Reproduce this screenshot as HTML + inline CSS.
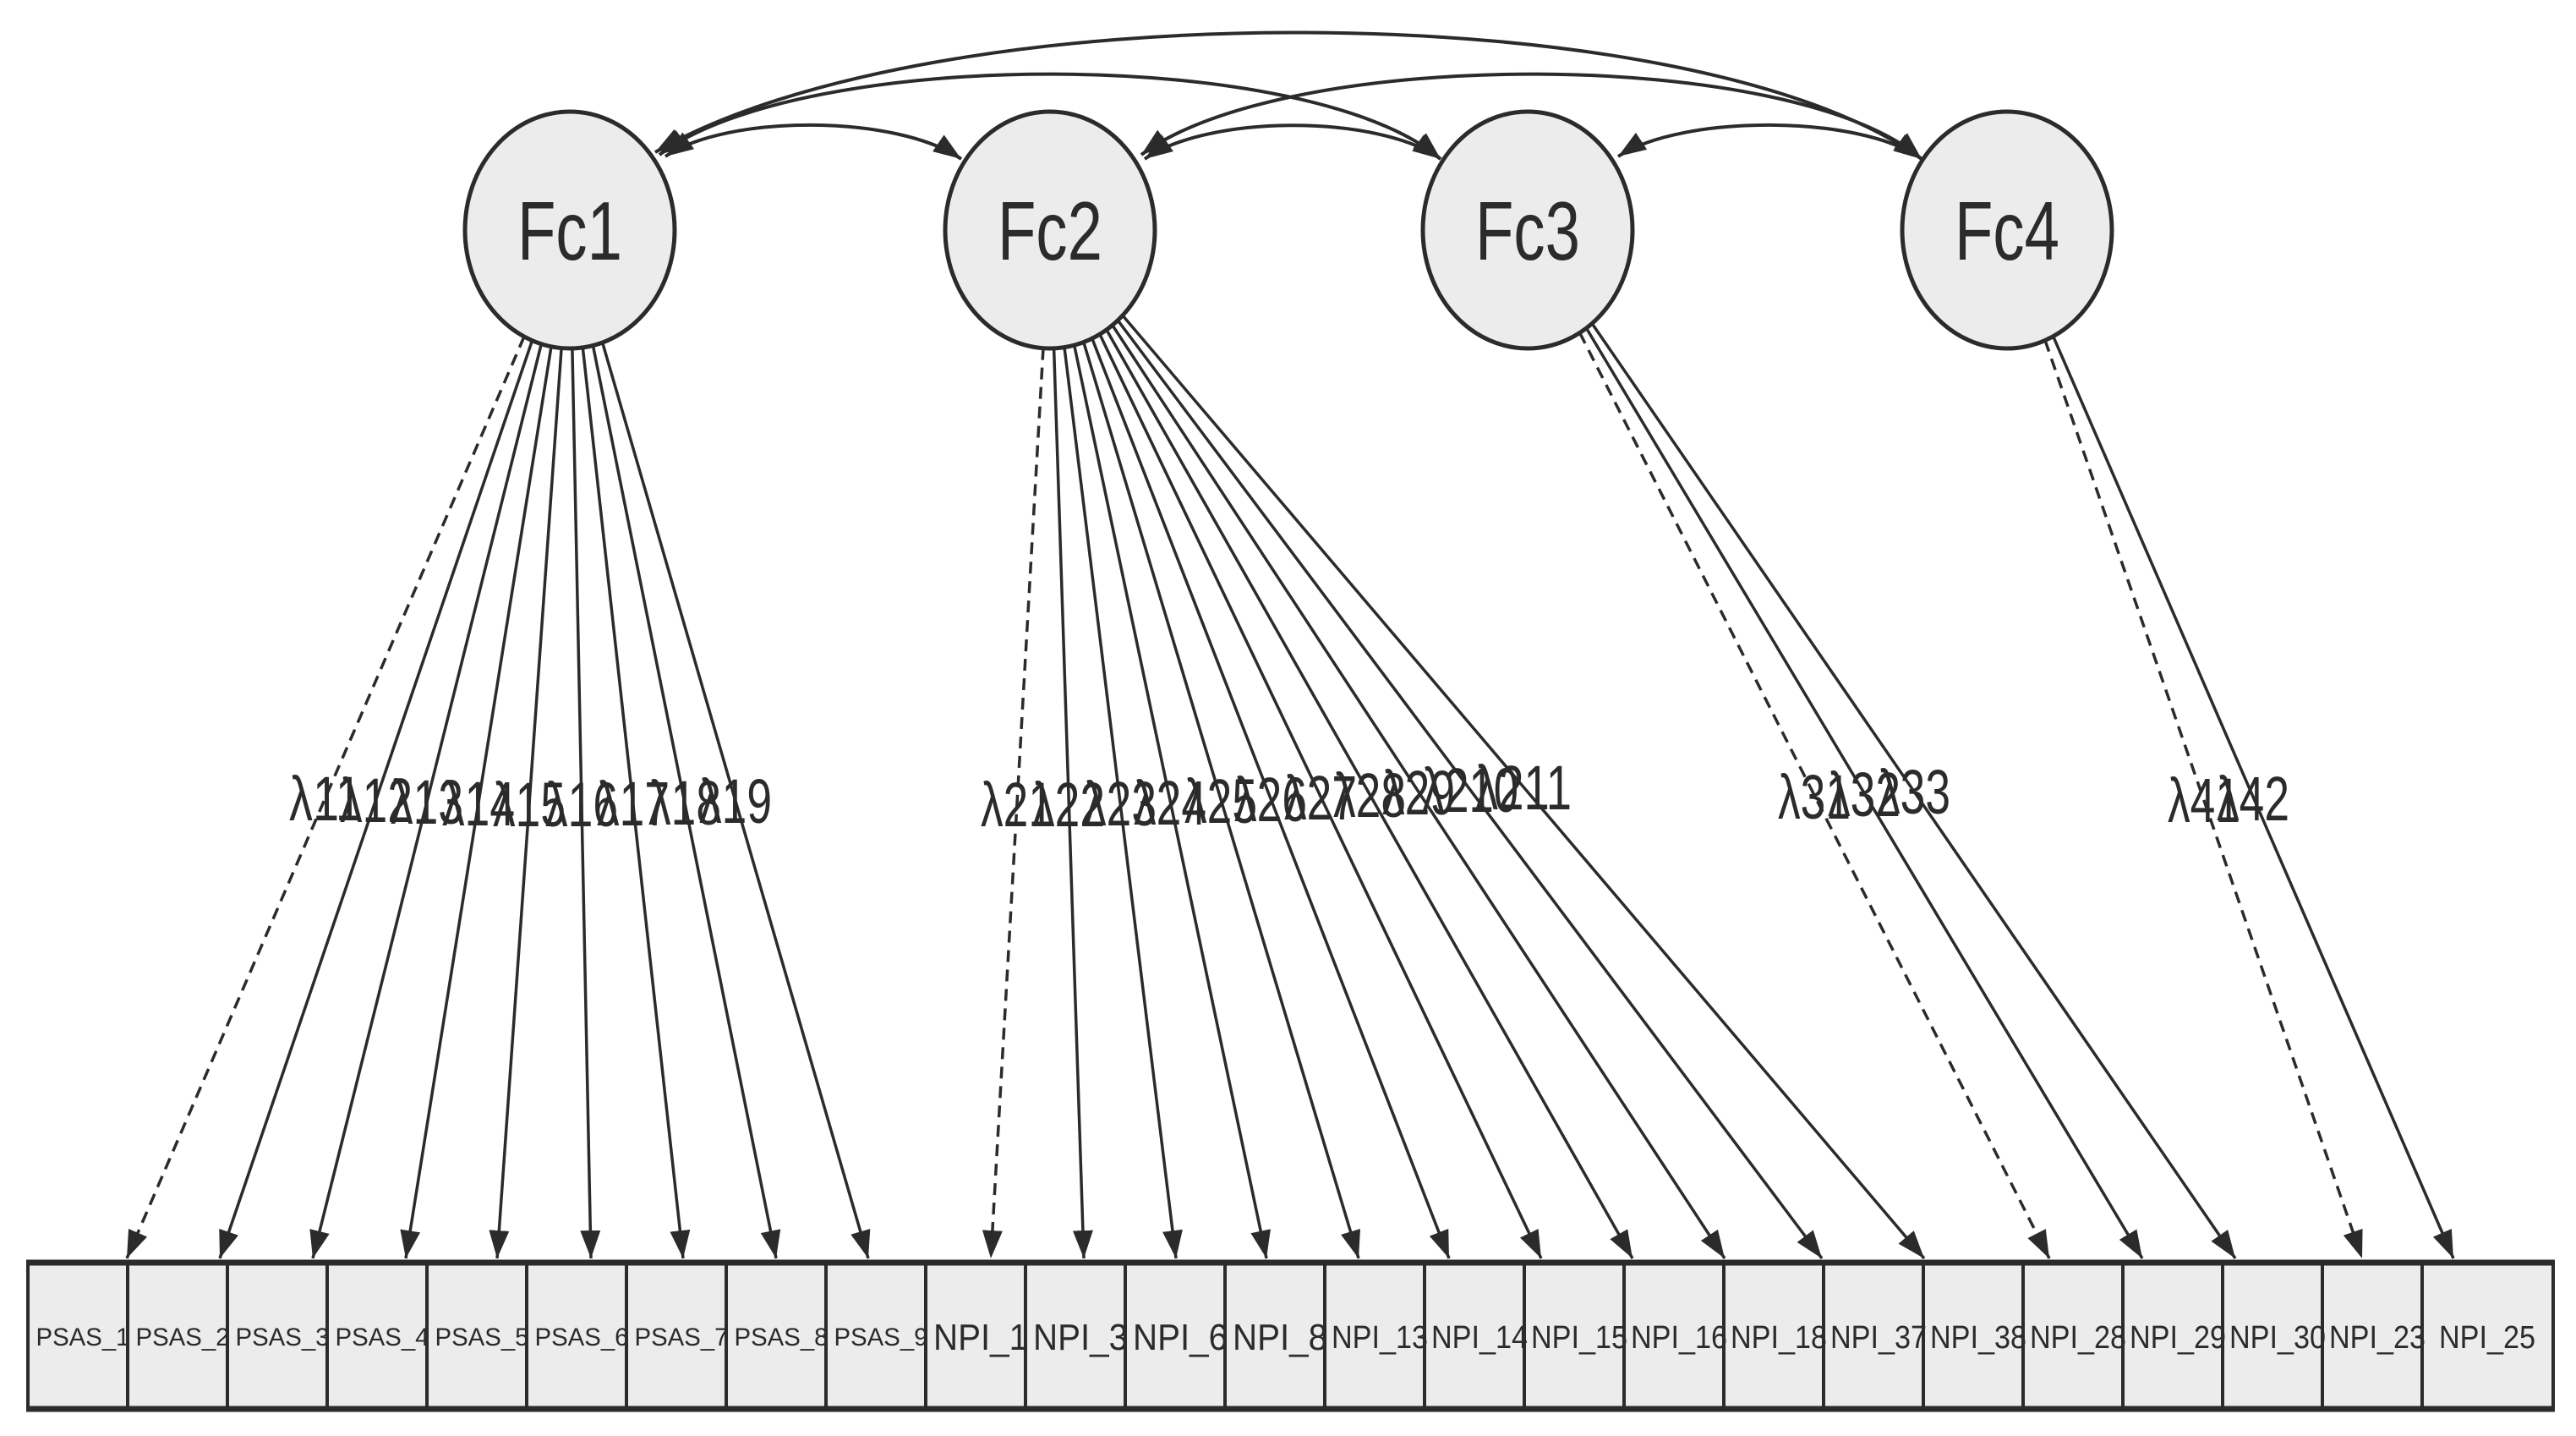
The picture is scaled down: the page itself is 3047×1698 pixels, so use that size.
<!DOCTYPE html>
<html><head><meta charset="utf-8"><style>
html,body{margin:0;padding:0;background:#fff;}
svg{display:block;}
text{font-family:"Liberation Sans",sans-serif;fill:#2b2b2b;}
</style></head><body>
<svg width="3047" height="1698" viewBox="0 0 3047 1698" xmlns="http://www.w3.org/2000/svg">
<defs>
<marker id="ah" markerUnits="userSpaceOnUse" markerWidth="34" markerHeight="24" refX="33" refY="12" orient="auto-start-reverse">
<path d="M0,0 L33,12 L0,24 z" fill="#2b2b2b"/>
</marker>
</defs>
<rect width="3047" height="1698" fill="#fff"/>

<!-- covariance arcs -->
<g fill="none" stroke="#2b2b2b" stroke-width="4" marker-start="url(#ah)" marker-end="url(#ah)">
<path d="M787,185 C860,135 1060,135 1137,188"/>
<path d="M780,183 C950,55 1550,55 1704,188"/>
<path d="M775,180 C1100,-10 2000,-10 2273,188"/>
<path d="M1354,188 C1430,135 1630,135 1704,188"/>
<path d="M1350,183 C1520,55 2120,55 2273,188"/>
<path d="M1914,185 C1990,135 2200,135 2273,188"/>
</g>

<!-- loadings -->
<g stroke="#2b2b2b" stroke-width="3.5" marker-end="url(#ah)">
<line x1="620" y1="398" x2="150" y2="1488" stroke-dasharray="14,9"/>
<line x1="629.5" y1="402.7" x2="260" y2="1488"/>
<line x1="640.3" y1="406.7" x2="370" y2="1488"/>
<line x1="652" y1="409.8" x2="480" y2="1488"/>
<line x1="664.1" y1="411.6" x2="588" y2="1488"/>
<line x1="676.9" y1="412" x2="699" y2="1488"/>
<line x1="689.3" y1="410.9" x2="808" y2="1488"/>
<line x1="701.4" y1="408.5" x2="918" y2="1488"/>
<line x1="712.6" y1="405" x2="1027" y2="1488"/>

<line x1="1234" y1="411.7" x2="1172" y2="1488" stroke-dasharray="14,9"/>
<line x1="1246.6" y1="411.9" x2="1282" y2="1488"/>
<line x1="1259" y1="410.7" x2="1391" y2="1488"/>
<line x1="1270.7" y1="408.2" x2="1498" y2="1488"/>
<line x1="1281.8" y1="404.6" x2="1607" y2="1488"/>
<line x1="1291.8" y1="400.2" x2="1714" y2="1488"/>
<line x1="1300.9" y1="395.2" x2="1823" y2="1488"/>
<line x1="1308.8" y1="389.9" x2="1931" y2="1488"/>
<line x1="1315.8" y1="384.5" x2="2040" y2="1488"/>
<line x1="1322.2" y1="378.8" x2="2155" y2="1488"/>
<line x1="1327.9" y1="373" x2="2276" y2="1488"/>

<line x1="1868.6" y1="393.5" x2="2424" y2="1488" stroke-dasharray="14,9"/>
<line x1="1876.4" y1="388" x2="2534" y2="1488"/>
<line x1="1883.1" y1="382.5" x2="2644" y2="1488"/>

<line x1="2419" y1="402.4" x2="2794" y2="1488" stroke-dasharray="14,9"/>
<line x1="2428.6" y1="397.7" x2="2902" y2="1488"/>
</g>

<!-- latent factors -->
<g fill="#ececec" stroke="#2b2b2b" stroke-width="5">
<ellipse cx="674" cy="272" rx="124" ry="140"/>
<ellipse cx="1242" cy="272" rx="124" ry="140"/>
<ellipse cx="1807" cy="272" rx="124" ry="140"/>
<ellipse cx="2374" cy="272" rx="124" ry="140"/>
</g>
<g font-size="98" text-anchor="middle">
<text x="674" y="307" textLength="124" lengthAdjust="spacingAndGlyphs">Fc1</text>
<text x="1242" y="307" textLength="124" lengthAdjust="spacingAndGlyphs">Fc2</text>
<text x="1807" y="307" textLength="124" lengthAdjust="spacingAndGlyphs">Fc3</text>
<text x="2374" y="307" textLength="124" lengthAdjust="spacingAndGlyphs">Fc4</text>
</g>

<!-- loading labels -->
<g font-size="74" text-anchor="middle" lengthAdjust="spacingAndGlyphs">
<text x="385" y="970" textLength="86" lengthAdjust="spacingAndGlyphs">λ11</text>
<text x="445" y="972" textLength="86" lengthAdjust="spacingAndGlyphs">λ12</text>
<text x="505" y="974" textLength="86" lengthAdjust="spacingAndGlyphs">λ13</text>
<text x="566" y="976" textLength="86" lengthAdjust="spacingAndGlyphs">λ14</text>
<text x="626" y="977" textLength="86" lengthAdjust="spacingAndGlyphs">λ15</text>
<text x="688" y="977" textLength="86" lengthAdjust="spacingAndGlyphs">λ16</text>
<text x="749" y="976" textLength="86" lengthAdjust="spacingAndGlyphs">λ17</text>
<text x="810" y="975" textLength="86" lengthAdjust="spacingAndGlyphs">λ18</text>
<text x="870" y="973" textLength="86" lengthAdjust="spacingAndGlyphs">λ19</text>

<text x="1203" y="977" textLength="86" lengthAdjust="spacingAndGlyphs">λ21</text>
<text x="1264" y="977" textLength="86" lengthAdjust="spacingAndGlyphs">λ22</text>
<text x="1325" y="976" textLength="86" lengthAdjust="spacingAndGlyphs">λ23</text>
<text x="1384" y="975" textLength="86" lengthAdjust="spacingAndGlyphs">λ24</text>
<text x="1444" y="973" textLength="86" lengthAdjust="spacingAndGlyphs">λ25</text>
<text x="1503" y="971" textLength="86" lengthAdjust="spacingAndGlyphs">λ26</text>
<text x="1562" y="969" textLength="86" lengthAdjust="spacingAndGlyphs">λ27</text>
<text x="1620" y="966" textLength="86" lengthAdjust="spacingAndGlyphs">λ28</text>
<text x="1678" y="963" textLength="86" lengthAdjust="spacingAndGlyphs">λ29</text>
<text x="1739" y="960" textLength="114" lengthAdjust="spacingAndGlyphs">λ210</text>
<text x="1802" y="957" textLength="114" lengthAdjust="spacingAndGlyphs">λ211</text>

<text x="2146" y="968" textLength="86" lengthAdjust="spacingAndGlyphs">λ31</text>
<text x="2205" y="965" textLength="86" lengthAdjust="spacingAndGlyphs">λ32</text>
<text x="2264" y="962" textLength="86" lengthAdjust="spacingAndGlyphs">λ33</text>

<text x="2607" y="972" textLength="86" lengthAdjust="spacingAndGlyphs">λ41</text>
<text x="2665" y="970" textLength="86" lengthAdjust="spacingAndGlyphs">λ42</text>
</g>

<!-- indicator boxes -->
<g fill="#ececec" stroke="#2b2b2b" stroke-width="4">
<rect x="33" y="1492" width="118" height="175"/>
<rect x="151" y="1492" width="118" height="175"/>
<rect x="269" y="1492" width="118" height="175"/>
<rect x="387" y="1492" width="118" height="175"/>
<rect x="505" y="1492" width="118" height="175"/>
<rect x="623" y="1492" width="118" height="175"/>
<rect x="741" y="1492" width="118" height="175"/>
<rect x="859" y="1492" width="118" height="175"/>
<rect x="977" y="1492" width="118" height="175"/>
<rect x="1095" y="1492" width="118" height="175"/>
<rect x="1213" y="1492" width="118" height="175"/>
<rect x="1331" y="1492" width="118" height="175"/>
<rect x="1449" y="1492" width="118" height="175"/>
<rect x="1567" y="1492" width="118" height="175"/>
<rect x="1685" y="1492" width="118" height="175"/>
<rect x="1803" y="1492" width="118" height="175"/>
<rect x="1921" y="1492" width="118" height="175"/>
<rect x="2039" y="1492" width="118" height="175"/>
<rect x="2157" y="1492" width="118" height="175"/>
<rect x="2275" y="1492" width="118" height="175"/>
<rect x="2393" y="1492" width="118" height="175"/>
<rect x="2511" y="1492" width="118" height="175"/>
<rect x="2629" y="1492" width="118" height="175"/>
<rect x="2747" y="1492" width="118" height="175"/>
<rect x="2865" y="1492" width="155" height="175"/>
</g>
<g stroke="#2b2b2b" stroke-width="7">
<line x1="31" y1="1493" x2="3022" y2="1493"/>
<line x1="31" y1="1666" x2="3022" y2="1666"/>
</g>

<g font-size="30" text-anchor="middle">
<text x="98" y="1591" textLength="111" lengthAdjust="spacingAndGlyphs">PSAS_1</text>
<text x="216" y="1591" textLength="111" lengthAdjust="spacingAndGlyphs">PSAS_2</text>
<text x="334" y="1591" textLength="111" lengthAdjust="spacingAndGlyphs">PSAS_3</text>
<text x="452" y="1591" textLength="111" lengthAdjust="spacingAndGlyphs">PSAS_4</text>
<text x="570" y="1591" textLength="111" lengthAdjust="spacingAndGlyphs">PSAS_5</text>
<text x="688" y="1591" textLength="111" lengthAdjust="spacingAndGlyphs">PSAS_6</text>
<text x="806" y="1591" textLength="111" lengthAdjust="spacingAndGlyphs">PSAS_7</text>
<text x="924" y="1591" textLength="111" lengthAdjust="spacingAndGlyphs">PSAS_8</text>
<text x="1042" y="1591" textLength="111" lengthAdjust="spacingAndGlyphs">PSAS_9</text>
</g>
<g font-size="44" text-anchor="middle">
<text x="1160" y="1596" textLength="112" lengthAdjust="spacingAndGlyphs">NPI_1</text>
<text x="1278" y="1596" textLength="112" lengthAdjust="spacingAndGlyphs">NPI_3</text>
<text x="1396" y="1596" textLength="112" lengthAdjust="spacingAndGlyphs">NPI_6</text>
<text x="1514" y="1596" textLength="112" lengthAdjust="spacingAndGlyphs">NPI_8</text>
</g>
<g font-size="38" text-anchor="middle">
<text x="1632" y="1594" textLength="114" lengthAdjust="spacingAndGlyphs">NPI_13</text>
<text x="1750" y="1594" textLength="114" lengthAdjust="spacingAndGlyphs">NPI_14</text>
<text x="1868" y="1594" textLength="114" lengthAdjust="spacingAndGlyphs">NPI_15</text>
<text x="1986" y="1594" textLength="114" lengthAdjust="spacingAndGlyphs">NPI_16</text>
<text x="2104" y="1594" textLength="114" lengthAdjust="spacingAndGlyphs">NPI_18</text>
<text x="2222" y="1594" textLength="114" lengthAdjust="spacingAndGlyphs">NPI_37</text>
<text x="2340" y="1594" textLength="114" lengthAdjust="spacingAndGlyphs">NPI_38</text>
<text x="2458" y="1594" textLength="114" lengthAdjust="spacingAndGlyphs">NPI_28</text>
<text x="2576" y="1594" textLength="114" lengthAdjust="spacingAndGlyphs">NPI_29</text>
<text x="2694" y="1594" textLength="114" lengthAdjust="spacingAndGlyphs">NPI_30</text>
<text x="2812" y="1594" textLength="114" lengthAdjust="spacingAndGlyphs">NPI_23</text>
<text x="2942" y="1594" textLength="114" lengthAdjust="spacingAndGlyphs">NPI_25</text>
</g>
</svg>
</body></html>
